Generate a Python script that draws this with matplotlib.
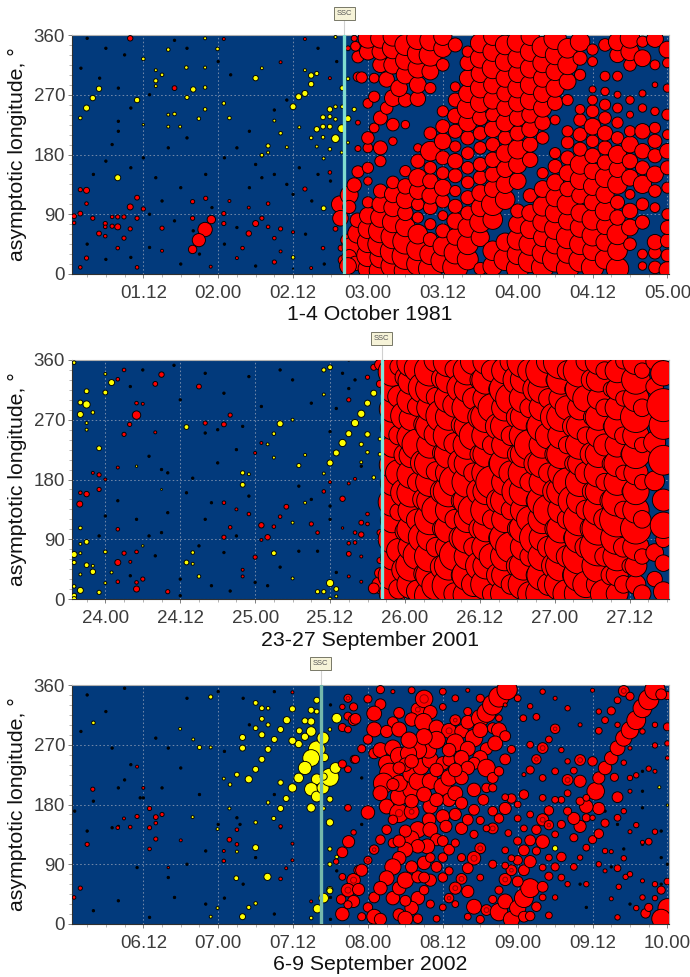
import matplotlib
matplotlib.use("Agg")
import matplotlib.pyplot as plt
from matplotlib.ticker import MultipleLocator

plt.rcParams['font.family'] = ['Liberation Sans', 'DejaVu Sans']

# every mark is (hour from the first day 00:00, longitude, bubble diameter)
# ---- 1-4 October 1981
oct_yellow = [(4.9,279,4.5),(3.9,265,4.5),(2.9,250,5),(1.9,235,3),(7.9,145,5),(12,324,3),(14,291,3.5),(14,283,2.5),(15,300,3),
 (14,307,2.5),(16,338,3),(18.9,311,3),(21.9,355,2.5),(23.9,339,3),(20,278,4.5),(21.9,281,3),(21.9,311,2.5),(21.9,248,3),(20.9,234,3),
 (17,241,3),(16,222,2.5),(17.9,222,2.5),(24.9,257,3),(25.8,235,3),(30,295,4.5),(31,310,2.5),(33,231,2.5),(34,212,3),(32,193,3.5),
 (32,183,2.5),(31,179,3),(35,191,2.5),(36,252,5),(36.9,267,5),(37.9,272,5),(38.9,286,4.5),(38.9,299,4.5),(39.8,302,3.5),(37.9,307,2.5),
 (40.8,236,4),(41.9,237,3.5),(42.8,233,3),(41.9,248,4.5),(42.8,252,3),(43.9,280,4),(43.9,252,3),(39.8,218,4.5),(40.8,222,4),(41.9,222,4),
 (42.8,204,6.5),(43.8,219,6.5),(40.8,206,3),(38.9,205,3),(39.8,192,2.5),(41.9,188,3),(44.8,234,5),(45.8,248,3.5),(44.8,294,3),(44.8,198,2.5),
 (37,221,2.5),(40.9,99,4),(43.8,183,2.5),(40.9,174,2.5),(42.8,357,2.5),(11,262,4.5),(19,266,3.5),(12,225,2),(16,240,2.5),(36,8,1),(36,25,3)]
oct_red = [(9.9,355,4.5),(1.9,127,3.5),(2.9,126,5),(1.9,91,4),(0.9,87,4),(0.9,77,3),(2.9,106,3),(3.9,84,3.5),(5.9,76,3.5),(5.9,71,3),
 (7,72,3.5),(7.9,71,5),(7.9,86,3.5),(7,86,3),(8.9,86,3.5),(9.9,101,5),(11,115,4),(11,84,3.5),(12,98,3.5),(9.9,68,3.5),(8.9,54,3.5),
 (4.9,61,4),(5.9,57,3),(7.9,39,3),(2.9,24,3.5),(1.9,10,3),(11,10,3),(15,69,3.5),(15,35,2.5),(17,280,4),(19.9,109,3.5),(22,114,3.5),
 (19.9,84,3.5),(22.9,82,7),(21.9,67,12),(20.9,51,11),(19.9,37,7),(24.9,91,3.5),(24.9,76,3.5),(25.8,110,2.5),(28.9,100,2.5),(28.9,61,4.5),
 (30,76,5),(31,84,3.5),(32,71,3),(32,106,3),(34,68,3.5),(33,54,3),(33,18,3.5),(34,34,2.5),(27.9,39,3),(27,24,2.5),(22.8,11,2.5),(36,63,2.5),
 (37.9,128,3.5),(38.9,9,2.5),(40.8,39,3),(41.9,153,3),(42.8,68,4),(34,319,2.5),(41.9,295,2.5),(24.9,354,2.5),(37.9,354,2.5),
 (43.7,39,5),(44,21,8),(43.5,105,14),(43.6,84,13),(45,119,15),(45.8,134,12),(46.4,154,10),(45,101,11),(44.6,51,10),(45.4,41,16),(45,26,12),
 (46.3,61,16),(46.3,81,12),(46,16,12),(46.4,189,5),(46.4,228,4),(46.4,297,8),(46.4,327,10),(46,343,8),(45.8,355,5),(44.8,340,4),(44.8,12,14)]
oct_red_after = [(48,8,14),(48,28,16),(48,48,15),(48,68,14),(48,88,12),(48,108,8),(48,140,6),(48,160,8),(48,190,7),(48,205,9),(48,257,7),(47,296,8),(48,335,12),(48,355,14),
 (50,5,16),(50,25,15),(50,45,18),(50,65,17),(50,85,14),(50,105,12),(50,125,10),(50,170,8),(50,190,10),(49,220,7),(50,235,10),(49,267,8),(49,295,7),(50,315,11),(50,335,12),(50,355,14),
 (52,12,17),(52,34,18),(52,56,17),(52,78,15),(52,100,13),(52,120,12),(52,138,9),(52,200,6),(52,225,9),(51,250,9),(52,265,12),(51,293,11),(52,315,13),(52,340,15),(52,358,14),
 (54,5,16),(54,27,19),(54,49,18),(54,71,14),(54,92,11),(54,112,13),(54,132,11),(54,155,8),(54,225,6),(54,262,10),(53,280,12),(54,300,13),(54,322,14),(54,345,15),
 (56,15,16),(56,37,16),(56,60,14),(56,85,8),(56,105,9),(56,125,12),(56,145,13),(56,170,10),(56,190,6),(56,264,11),(56,285,12),(56,310,14),(56,332,15),(56,355,16),
 (58,8,17),(58,30,15),(58,52,10),(58,75,8),(58,100,10),(58,118,12),(58,140,11),(58,160,9),(58,185,14),(58,212,9),(58,280,8),(58,305,12),(58,330,16),(58,352,15),
 (60,20,17),(60,42,14),(60,65,10),(60,88,7),(60,110,10),(60,130,12),(60,152,9),(60,175,10),(60,200,12),(60,222,10),(60,245,8),(60,315,9),(60,340,13),(60,358,13),
 (62,10,18),(62,32,16),(62,56,12),(62,80,12),(62,102,10),(62,125,8),(62,148,10),(62,170,11),(62,192,8),(62,215,10),(62,238,11),(62,262,10),(62,282,7),(62,345,10),
 (64,22,15),(64,45,15),(64,70,14),(64,92,10),(64,115,10),(64,138,9),(64,160,9),(64,182,9),(64,205,10),(64,228,13),(64,250,15),(64,272,13),(64,295,12),(64,318,11),(64,335,8),
 (66,8,9),(66,55,13),(66,78,15),(66,100,13),(66,122,12),(66,145,10),(66,165,10),(66,190,9),(66,212,10),(66,235,11),(66,258,14),(66,280,14),(66,302,13),(66,325,14),(66,348,14),
 (68,12,14),(68,35,14),(68,82,14),(68,105,16),(68,128,12),(68,150,11),(68,172,11),(68,195,10),(68,218,12),(68,240,10),(68,262,13),(68,285,13),(68,310,15),(68,335,14),(68,358,13),
 (70,22,16),(70,48,13),(70,112,14),(70,135,13),(70,158,12),(70,182,13),(70,205,10),(70,228,13),(70,250,12),(70,272,12),(70,295,13),(70,320,14),(70,345,14),
 (72,8,16),(72,30,15),(72,52,15),(72,75,13),(72,95,10),(72,140,12),(72,165,13),(72,188,14),(72,212,11),(72,235,12),(72,258,13),(72,280,14),(72,302,13),(72,325,14),(72,350,15),
 (74,20,17),(74,45,16),(74,68,14),(74,92,12),(74,118,10),(74,172,11),(74,195,11),(74,218,12),(74,240,12),(74,262,14),(74,285,14),(74,310,14),(74,335,14),(74,358,13),
 (76,10,16),(76,32,15),(76,55,13),(76,78,14),(76,102,14),(76,128,12),(76,152,8),(76,205,9),(76,228,11),(76,250,13),(76,272,13),(76,295,13),(76,318,14),(76,342,15),
 (78,22,18),(78,45,14),(78,68,15),(78,92,14),(78,115,13),(78,138,12),(78,162,10),(78,182,8),(78,232,7),(78,258,11),(78,280,13),(78,305,13),(78,330,14),(78,355,16),
 (80,8,16),(80,32,15),(80,55,16),(80,80,13),(80,105,15),(80,128,11),(80,152,12),(80,175,10),(80,198,9),(80,215,8),(80,262,8),(80,290,12),(80,315,14),(80,340,14),
 (82,20,16),(82,45,15),(82,70,14),(82,92,13),(82,118,12),(82,142,14),(82,165,14),(82,188,10),(82,210,10),(82,232,9),(82,248,7),(82,300,8),(82,325,10),(82,350,14),
 (84,10,16),(84,35,14),(84,58,15),(84,82,15),(84,108,12),(84,132,13),(84,155,12),(84,178,11),(84,200,9),(84,222,12),(84,245,9),(84,262,7),(84,278,5),(84,320,7),(84,338,8),
 (86,22,14),(86,48,13),(86,72,12),(86,95,14),(86,120,13),(86,145,14),(86,168,11),(86,190,10),(86,212,11),(86,235,9),(86,255,8),(86,275,6),(86,298,7),(86,345,9),
 (88,8,16),(88,35,14),(88,60,15),(88,85,11),(88,108,10),(88,135,14),(88,158,12),(88,180,13),(88,205,9),(88,228,8),(88,250,7),(88,270,5),(88,298,7),(88,330,11),(88,350,13),
 (90,45,9),(90,70,12),(90,95,11),(90,120,7),(90,145,12),(90,170,11),(90,195,12),(90,215,8),(90,240,5),(90,262,6),(90,315,9),(90,335,13),(90,355,14),
 (92,12,6),(92,30,7),(92,78,10),(92,105,9),(92,135,13),(92,160,10),(92,185,11),(92,215,11),(92,250,6),(92,272,5),(92,325,12),(92,350,8),
 (94,10,9),(94,32,9),(94,48,11),(94,100,7),(94,125,9),(94,150,12),(94,178,10),(94,200,10),(94,220,8),(94,245,6),(94,285,4),(94,315,7),(94,354,12),
 (96,6,12),(96,28,9),(96,50,10),(96,70,10),(96,90,8),(96,130,8),(96,160,10),(96,185,11),(96,210,7),(96,240,8),(96,280,6),(96,338,12),(96,318,7)]
oct_black = [(3,355),(6,340),(9,330),(2,310),(5,295),(8,280),(13,270),(10,250),(8,230),(8,215),(7,195),(12,175),(10,160),(6,170),(4,150),(16,190),(19,205),(14,145),(18,130),
 (15,110),(22,150),(25,175),(27,190),(30,165),(31,145),(29,130),(33,150),(35,135),(21,30),(18,15),(17,352),(24,320),(19,340),(26,300),(35,262),(33,247),(29,215),(31,178),(37,160),
 (40,150),(36,120),(39,110),(27,70),(25,45),(13,40),(6,22),(10,25),(3,45),(13,90),(17,80),(23,100),(42,140),(43,320),(40,340),(38,60),(41,15),(30,12),(20,65)]

# ---- 23-27 September 2001
sep01_yellow = [(19,356,3),(24,339,2.5),(25,326,5),(24,311,4),(21,313,4),(20,296,4),(21,293,6),(20,278,5),(22,281,3),(21,265,2.5),(21,255,2.5),(23,227,4),
 (37,259,4),(46,172,4),(46,190,3.5),(47,188,2.5),(50,233,2.5),(52,264,5),(51,249,3),(54,270,2.5),(51,213,2.5),(51,69,4),(19,67,5),(19,55,3.5),(20,107,3),(21,86,4),
 (20,83,2.5),(20,69,2.5),(21,51,4),(22,41,4.5),(22,50,2.5),(20,37,2.5),(20,13,5),(19,19,3),(19,5,4),(19,0,4),(23,10,3.5),(24,24,2.5),(25,40,2.5),(24,71,3),(37,55,4),
 (38,53,2.5),(38,70,3),(39,34,3),(60,24,6),(59,11,3.5),(58,11,3.5),(61,15,4),(61,4,2.5),(60,0,3),(54,31,2.5),(56,217,2.5),(60,205,5),(61,220,5),(62,235,6),(63,249,5),
 (64,265,6),(65,279,6),(66,295,5),(67,310,5),(60,349,4),(59,345,3.5),(65,233,3.5),(66,248,4.5),(67,183,3),(66,221,3),(65,206,2.5),(68,241,3),(68,218,3),(59,189,2.5),
 (55,201,3.5),(59,308,2.5),(56,145,2.5),(54,115,2.5),(29,200,2),(30,80,2),(33,165,1.5)]
sep01_red = [(29,277,7),(27.9,263,3.5),(27,248,3.5),(33,338,4.5),(32,324,4),(29,295,3),(30,294,2.5),(27,345,3),(26,331,3),(21,158,4.5),(19.9,143,5),(20,160,3),(23,187,3.5),
 (23,165,3.5),(22,190,2.5),(24,180,2.5),(26,198,2.5),(26,105,3),(29,15,5),(29,25,3),(30,30,3.5),(26,55,5),(27,69,3.5),(29,71,3),(28,56,2.5),(34,11,3.5),(26,26,3),(32,251,2.5),
 (39,320,4),(40,265,3.5),(43,263,4),(44,277,3.5),(43,145,3),(44,108,3),(43,93,3.5),(45,135,2.5),(47,128,3),(46,44,2.5),(46,34,2.5),(48,63,3.5),(49,111,4.5),(50,93,4.5),(49,235,2.5),
 (49,89,2.5),(51,109,3),(52,124,3),(53,139,4),(48,220,2.5),(57,113,3.5),(58,100,3),(60,176,2.5),(59,162,3),(62,151,4.5),(63,174,2.5),(64,181,2.5),(63,300,3.5),(66,334,3.5),(67,349,5),
 (68,324,6),(68,353,9),(66,128,3),(65,115,4),(66,113,3),(64,100,3),(65,97,4.5),(63,84,3),(64,85,3),(63,68,4),(65,64,2.5),(63,34,2.5),(65,26,2.5),(62,107,2),(68,21,14),(67,16,9),(68,39,9),(68,58,5),(68,100,5)]
sep01_red_after = [(70,8,24),(70,35,26),(70,62,22),(70,90,26),(70,118,22),(70,146,26),(70,174,22),(70,202,24),(70,230,20),(70,258,22),(70,286,24),(70,314,22),(70,342,26),
 (73,22,26),(73,50,28),(73,78,24),(73,105,26),(73,133,24),(73,160,26),(73,188,26),(73,216,22),(73,244,26),(73,272,22),(73,300,26),(73,328,24),(73,356,26),
 (76,5,28),(76,36,26),(76,64,28),(76,92,24),(76,120,28),(76,148,24),(76,176,26),(76,204,28),(76,232,24),(76,260,26),(76,288,24),(76,316,26),(76,344,28),
 (79,20,30),(79,50,26),(79,78,24),(79,106,26),(79,134,24),(79,162,28),(79,190,24),(79,218,26),(79,246,28),(79,274,24),(79,302,26),(79,330,24),(79,358,28),
 (82,6,26),(82,36,28),(82,64,24),(82,92,28),(82,120,24),(82,148,26),(82,176,28),(82,204,24),(82,232,26),(82,260,24),(82,288,28),(82,316,24),(82,344,26),
 (85,22,28),(85,50,24),(85,78,26),(85,106,24),(85,134,28),(85,162,24),(85,190,26),(85,218,24),(85,246,26),(85,274,28),(85,302,24),(85,330,26),(85,358,24),
 (88,8,26),(88,36,24),(88,64,26),(88,92,28),(88,120,24),(88,148,26),(88,176,24),(88,204,28),(88,232,24),(88,260,26),(88,288,24),(88,316,28),(88,344,24),
 (91,22,28),(91,50,26),(91,78,24),(91,106,26),(91,134,24),(91,162,26),(91,190,28),(91,218,24),(91,246,26),(91,274,24),(91,302,26),(91,330,24),(91,358,30),
 (94,8,30),(94,36,28),(94,64,26),(94,92,24),(94,120,26),(94,148,28),(94,176,24),(94,204,26),(94,232,24),(94,260,28),(94,288,24),(94,316,26),(94,344,30),
 (97,22,30),(97,50,28),(97,78,30),(97,106,26),(97,134,24),(97,162,26),(97,190,24),(97,218,26),(97,246,24),(97,274,26),(97,302,22),(97,330,26),(97,358,32),
 (100,8,28),(100,36,30),(100,64,32),(100,92,28),(100,120,30),(100,148,24),(100,176,26),(100,204,22),(100,232,26),(100,260,24),(100,288,22),(100,316,26),(100,344,30),
 (103,22,22),(103,50,30),(103,78,34),(103,106,30),(103,134,28),(103,162,24),(103,190,26),(103,218,24),(103,246,22),(103,274,24),(103,302,20),(103,330,22),(103,358,24),
 (106,8,20),(106,36,20),(106,64,26),(106,92,30),(106,120,32),(106,148,28),(106,176,24),(106,204,24),(106,232,22),(106,260,24),(106,288,22),(106,316,20),(106,344,22),
 (109,22,18),(109,50,20),(109,78,24),(109,106,28),(109,134,24),(109,162,24),(109,190,22),(109,218,26),(109,246,24),(109,274,28),(109,302,24),(109,330,26),(109,358,24),
 (113.4,11,18),(113.4,54,15),(113.4,89,14),(113.4,111,24),(113.4,149,20),(113.4,209,27),(113.4,262,26),(113.4,292,30),(113.4,340,23),(112,30,14),(112,70,16),(112,178,18),(112,236,20),(112,320,16),(112,358,16)]
# the fish-scale pattern: smaller hourly bubbles between the columns above
sep01_red_mid = [(71,15,18),(71,73,22),(71,131,16),(71,190,24),(71,247,18),(71,305,20),(71,350,16),
 (72,44,24),(72,102,18),(72,160,26),(72,217,20),(72,276,26),(72,334,18),
 (74,12,20),(74,66,26),(74,119,20),(74,176,18),(74,233,28),(74,290,18),(74,347,24),
 (75,38,18),(75,93,28),(75,150,20),(75,205,24),(75,263,18),(75,318,28),
 (77,20,26),(77,78,18),(77,134,26),(77,192,18),(77,248,22),(77,304,18),(77,360,22),
 (78,48,22),(78,106,18),(78,162,22),(78,220,18),(78,276,30),(78,332,20),
 (80,8,20),(80,66,28),(80,120,18),(80,178,28),(80,234,20),(80,292,22),(80,346,18),
 (81,36,18),(81,92,22),(81,148,18),(81,206,24),(81,262,18),(81,318,26),
 (83,22,22),(83,78,18),(83,134,28),(83,190,18),(83,246,26),(83,302,20),(83,358,24),
 (84,50,26),(84,106,20),(84,162,24),(84,218,18),(84,274,22),(84,330,18),
 (86,8,18),(86,64,24),(86,120,18),(86,176,30),(86,232,18),(86,288,26),(86,344,20),
 (87,36,22),(87,92,18),(87,148,22),(87,204,18),(87,260,24),(87,316,18),
 (89,22,18),(89,78,28),(89,134,18),(89,190,22),(89,246,18),(89,302,28),(89,358,20),
 (90,50,20),(90,106,18),(90,162,28),(90,218,18),(90,274,20),(90,330,26),
 (92,8,22),(92,64,18),(92,120,24),(92,176,18),(92,232,28),(92,288,18),(92,344,22),
 (93,36,18),(93,92,30),(93,148,18),(93,204,22),(93,260,18),(93,316,24),
 (95,22,20),(95,78,20),(95,134,28),(95,190,18),(95,246,24),(95,302,18),(95,358,22),
 (96,50,24),(96,106,18),(96,162,22),(96,218,18),(96,274,26),(96,330,16),
 (98,8,26),(98,64,20),(98,120,18),(98,176,26),(98,232,16),(98,288,22),(98,344,18),
 (99,36,20),(99,92,18),(99,148,28),(99,204,16),(99,260,20),(99,316,16),
 (101,22,24),(101,78,20),(101,134,18),(101,190,20),(101,246,16),(101,302,24),(101,358,18),
 (102,50,18),(102,106,22),(102,162,18),(102,218,22),(102,274,16),(102,330,20),
 (104,8,26),(104,64,18),(104,120,20),(104,176,16),(104,232,20),(104,288,16),(104,344,16),
 (105,36,18),(105,92,18),(105,148,20),(105,204,16),(105,260,14),(105,316,14),
 (107,22,16),(107,78,18),(107,134,16),(107,190,14),(107,246,16),(107,302,14),(107,358,14),
 (108,50,14),(108,106,16),(108,162,14),(108,218,16),(108,274,14),(108,330,14),
 (110,8,16),(110,64,14),(110,120,16),(110,176,14),(110,232,14),(110,288,16),(110,344,14)]
sep01_black = [(30,345),(35,352),(40,340),(28,320),(36,300),(43,310),(47,335),(52,345),(31,215),(33,195),(38,182),(42,205),(45,225),(37,160),(41,145),(34,130),(40,120),(45,95),(39,80),
 (32,65),(36,30),(41,20),(44,12),(48,25),(52,48),(55,72),(53,140),(47,155),(55,170),(49,290),(54,330),(57,295),(61,287),(63,360),(60,252),(62,340),(46,260),(42,255),(40,250),(34,190),
 (29,120),(26,148),(24,125),(23,95),(31,95),(33,100),(58,72),(60,120),(61,40),(64,330),(63,317),(65,200),(60,140),(57,150),(43,70),(50,20),(28,35),(36,5)]

# ---- 6-9 September 2002
sep02_yellow = [(39.8,263,14),(38.9,250,14),(37.9,235,11),(36.9,220,8),(35.9,205,7),(39.8,218,9),(38.9,203,11),(39.8,192,9),(38.9,175,7),(40.8,205,10),(41.9,221,15),(41,251,7),
 (40.8,280,10),(42.8,235,9),(38.9,290,8),(37.9,282,6),(36.9,271,6),(35.9,276,6),(37,291,5),(38.9,305,6),(37.9,306,5),(35,307,6),(34,293,5),(33,278,5),(32,263,5),(31,248,5),(30,233,5),
 (28.9,218,6),(27,225,4),(27.9,281,5),(27.9,265,5),(30,295,4),(31,285,5),(31,309,4),(32,300,3.5),(30,333,4),(31,325,4),(32,325,3),(35.9,324,5),(38.9,322,5),(39.8,337,5),(39.8,320,4),
 (22.8,342,3.5),(34,174,5),(34.9,189,5),(34,213,4.5),(32.9,159,3.5),(32,183,3),(30,153,3),(30,115,5),(31.9,71,6),(26.9,69,4),(27.9,11,5),(30,31,3),(28.9,25,3.5),(39.9,23,7),(40.9,39,8),
 (41.9,52,5),(38.9,9,3),(41.9,188,5),(41.9,153,6),(40.9,174,3),(40.9,222,6),(41.9,113,3.5),(41.9,90,3.5),(43,310,8),(43,101,3),(21,266,3.5),(20,278,2.5),(17.9,294,2.5),(22.8,266,2.5),
 (4,303,3),(19.9,161,2.5),(23.9,143,2.5),(25.9,210,3),(24.9,219,2.5),(25.8,174,2.5),(27,109,2.5),(23.9,24,2.5),(22.8,11,2.5),(78,114,4.5),(94.7,206,2.5),(96,179,2),(41.9,50,5),(41.9,293,3)]
sep02_red = [(3.9,203,3.5),(0.9,40,3),(1.9,54,3.5),(3,120,3.5),(11,162,3.5),(13,174,3.5),(14,161,4),(15,165,3.5),(14,152,3),(13,145,3.5),(14,128,3.5),(13,113,3),(11,237,2.5),(12,205,2.5),
 (25.8,127,4),(27,120,3),(27,142,3),(34,147,3),(24.9,95,3),(24.9,110,2.5),(34,68,3),(35.9,96,2.5),(35.9,121,2.5),(35.9,349,2.5),(38.9,34,2.5),(34.9,84,2.5),(7.9,145,3),(9.9,146,3),(8.9,159,2.5),
 (18,126,2.5),(16,85,2)]
sep02_red_after = [(44.9,124,9),(43.9,108,8),(45.7,66,10),(44.8,51,10),(45.7,34,9),(43.7,37,7),(43.9,15,10),(44.8,29,6),(43.9,71,5),(46.5,52,9),(46.5,81,7),(43.9,241,6),(44.8,233,5),
 (45.8,248,6),(43.9,296,6),(44.8,293,5),(44.8,313,6),(45.7,307,8),(44.8,340,6),(45.7,327,6),(43.9,327,4),(44.8,175,5),(45.7,138,4),(42.9,94,4),
 (48,168,10),(47,81,9),(48,96,6),(49,112,7),(49,40,8),(48,25,7),(49,11,11),(50,7,9),(47,11,6),(50,331,8),(49,317,11),(49,293,11),(48,339,6),(46,309,8),(48,278,7),(47,264,6),(46,248,6),
 (53,318,8),(52,304,8),(56,323,10),(57,339,13),(58,319,10),(51,290,9),(53,293,11),(55,308,10),(56.9,304,13),(59,296,11),(61,291,11),(63,290,10),(62,307,8),(64,304,10),(66,310,13),(67,318,14),(68,330,15),(69,342,15),(70.3,353,15),
 (68,295,8),(69,292,11),(65,280,13),(66,292,11),(62,273,13),(64,264,11),(67,264,9),(68.4,272,11),(70,283,8),(71,263,6),(66,250,11),(65,242,9),(67,235,13),(70,248,8),(68,220,8),
 (49,257,8),(50,262,11),(52,265,12),(51,242,12),(53,253,13),(51.5,227,15),(50.5,212,15),(50,197,11),(51,177,11),(53,167,14),(55,169,11),(52,157,7),(53,192,13),(55,202,13),(53,212,12),(55,226,13),(56,215,13),(58,215,12),
 (60,207,13),(61,220,12),(56.5,237,12),(58,247,12),(60,242,10),(61,247,9),(63,250,11),(64,235,10),(63,220,10),(61,262,10),(57.7,262,12),(56,262,13),(54.5,257,12),(59,277,13),(57,282,12),(54.6,277,12),(61,187,10),(58,177,11),
 (62,197,11),(65,202,10),(66.5,187,8),(65,172,8),(63,182,9),(60,162,10),(57.8,157,10),(56,142,12),(55,129,11),(58,142,11),(60.5,147,9),(63,144,9),(64,157,8),(59,127,9),(61,112,8),(57.5,117,11),(56,117,10),(54,112,11),
 (53,99,10),(52,86,12),(51,69,11),(50,54,10),(52,39,10),(53,54,10),(54,66,12),(56,71,9),(58,66,9),(59,86,8),(57,92,10),(55,86,9),(56,39,10),(55,24,10),(53,14,9),(54,8,11),(57,51,7),(52,122,7),(51,142,7),(50,127,7),
 (66,114,8),(65,99,10),(64,84,8),(63,68,8),(62,54,9),(64,49,9),(61,39,7),(60,25,5),(59,8,5),(65,26,11),(67,21,8),(64,11,5),(66,7,6),(69,18,13),(70,34,11),(68,37,6),(69,51,6),(71,7,12),(72,24,12),(73,39,14),(74,54,14),
 (73,11,8),(76,56,8),(75,26,7),(77,13,5),(76,40,5),(70,67,9),(72,64,8),(73,81,8),(74,94,9),(71,81,8),(73,111,8),(74,126,8),(76,124,10),(77,72,6),(78,86,6),(79,101,7),(81,86,5),(82,100,4),(83,115,5),(84,127,6),(85,136,7),
 (82,147,9),(81,159,9),(83,160,6),(86,152,6),(85,174,9),(83,177,10),(84.5,200,13),(82,215,9),(85,220,9),(86,235,10),(87,250,10),(88,265,11),(89,280,12),(90,292,13),(91,307,14),(92,325,14),(93,338,15),(94,353,15),
 (87.5,221,6),(88,191,8),(96,24,14),(95,8,14),(92.5,16,7),(84,245,7),(82,247,8),(80,217,8),(81,231,5),(80,197,5),(79,187,5),(78,187,5),(76,190,5),(77,171,7),(76,157,9),(77,149,7),(75,142,7),(73,144,5),(72,159,5),
 (71,189,7),(70,174,9),(70,191,5),(73,195,7),(74,232,6),(75,248,7),(76,265,8),(78,294,7),(77,278,5),(75,312,5),(72.9,310,5),(69,159,7),(68,144,8),(67,144,5),(70.5,137,5),(72,96,7),(71,99,5),(70,111,5),(85,291,5),(87,321,6),
 (86,307,5),(88,337,5),(89,351,8),(90,343,6),(96,344,6),(95,346,8),(96,64,5),(95,51,6),(94,39,4),(93,25,6),(91,24,4),(88,84,5),(89.3,71,4),(88.2,56,4),(87,38,3),(88,10,4),(89,99,4),(87,109,3),(93,124,5),(94,139,4),(92,123,3),
 (91,149,4),(90,139,3),(91,224,4),(93,234,4),(94,269,4),(96,272,4),(96,297,6),(78,340,3),(76,350,4),(80,325,4),(82,300,3),(84,352,3),(72,340,5),(74,328,4),(70,330,3),(50,353,6),(52,350,3),(55,352,5),(60,350,5),(64,352,3),(73,225,3),
 (54,240,10),(55,245,10),(59,232,10),(62,232,10),(53,235,9),(57,195,11),(59,187,10),(55,185,10),(52,210,9),(62,165,9),(60,125,8),(54,140,9),(53,125,9),(57,70,8),(60,70,7),(61,80,6),(54,35,8),(58,30,6),(62,30,5),(56,8,7),
 (58,100,7),(60,100,7),(63,100,6),(62,122,6),(65,135,6),(66,156,6),(68,170,7),(67,205,7),(68,205,6),(69,230,7),(64,320,6),(60,327,5),(62,340,5),(66,340,6),(69,310,5),(74,270,5),(76,220,5),(78,230,5),(79,262,4),(80,245,4),
 (82,185,6),(80,170,6),(79,150,6),(81,130,6),(78,135,5),(72,125,6),(70,88,5),(68,90,6),(66,70,5),(74,165,5),(72,180,5),(75,110,6),(77,100,5),(79,70,5),(76,85,5),(74,12,7),(78,40,4),(80,60,4),(83,60,4),(85,90,4),
 (86,110,4),(86,80,3),(90,75,4),(92,65,3),(92,40,4),(94,60,4),(84,160,4),(83,190,5),(88,160,5),(89,170,4),(90,220,4),(89,243,4),(90,200,3),(94,230,3),(96,250,3),(94,300,4),(92,290,4),(90,265,3),(88,300,4),(85,320,4)]
sep02_rings = [(45.7,66,5),(44.8,51,5),(44.8,340,3),(57,339,7),(56,323,4),(61,291,5),(62,307,3),(55,169,4),(53,167,6),(66,114,4),(65,99,5),(63,68,4),(62,54,4),(61,39,3),(67,21,4),(70,67,4),(71,81,3),(76,157,4),(77,149,3),
 (75,248,3),(76,265,4),(78,294,3),(82,247,4),(80,217,4),(89,351,4),(68,144,4),(49,112,3),(48,96,3)]
sep02_black = [(3,345),(6,320),(9,355),(2,290),(7,265),(10,240),(8,205),(12,190),(4,185),(7,145),(1,170),(3,140),(11,85),(8,35),(4,20),(13,10),(17,40),(16,70),(19,90),(22,110),(24,150),(21,195),(15,205),(18,235),(25,260),(19,340),
 (24,350),(28,340),(14,280),(16,265),(29,300),(33,350),(33,195),(34,145),(27,160),(30,100),(28,60),(33,15),(25,39),(11.5,190),(9,217),(8,147),(27.5,150),(22,30),(42,330),(43,80),(42,7),(42,40),(47,220),(47,150),(88,10),(92,175),
 (92,120),(90,30),(95,140),(95,100),(95,60),(92,230),(92,200),(87,86),(86,170),(89,113),(96,90),(83,25),(82,60),(88,150)]

# axes positions in pixels of the final picture (left, top, right, bottom)
W, H = 690, 977
panels = [
    dict(yellow=oct_yellow, red=oct_red, after=oct_red_after, after_scale=1.4, black=oct_black, rings=[],
         box=(72, 35, 669, 274), xlim=(0.57, 96.25), ticks=[12,24,36,48,60,72,84,96],
         labels=['01.12','02.00','02.12','03.00','03.12','04.00','04.12','05.00'],
         ssc=44.2, ssc_col='#7fdcd0', title='1-4 October 1981', title_x=370, title_y=314),
    dict(yellow=sep01_yellow, red=sep01_red, after=sorted(sep01_red_after + sep01_red_mid, key=lambda r: r[0]), after_scale=1.1, black=sep01_black, rings=[],
         box=(72, 360, 669, 599), xlim=(18.66, 114.3), ticks=[24,36,48,60,72,84,96,108],
         labels=['24.00','24.12','25.00','25.12','26.00','26.12','27.00','27.12'],
         ssc=68.3, ssc_col='#7fe4dc', title='23-27 September 2001', title_x=370, title_y=641),
    dict(yellow=sep02_yellow, red=sep02_red, after=sep02_red_after, after_scale=1.35, black=sep02_black, rings=sep02_rings,
         box=(72, 685, 669, 924), xlim=(0.57, 96.25), ticks=[12,24,36,48,60,72,84,96],
         labels=['06.12','07.00','07.12','08.00','08.12','09.00','09.12','10.00'],
         ssc=40.4, ssc_col='#74b8ac', title='6-9 September 2002', title_x=370, title_y=964),
]

BLUE = '#023a7c'
TEXT = '#3c3c3c'


def bubbles(ax, rows, colour, z, scale=1.0, fill=True):
    t = [r[0] for r in rows]
    lon = [r[1] for r in rows]
    s = [(r[2] * scale * 72 / 100) ** 2 for r in rows]
    ax.scatter(t, lon, s=s, c=colour if fill else 'none', edgecolors='black' if fill else '#8c0000',
               linewidths=0.65, zorder=z)


fig = plt.figure(figsize=(W / 100, H / 100), dpi=100)

for p in panels:
    left, top, right, bottom = p['box']
    ax = fig.add_axes([left / W, 1 - bottom / H, (right - left) / W, (bottom - top) / H])
    ax.set_facecolor(BLUE)
    ax.set_xlim(*p['xlim'])
    ax.set_ylim(0, 360)

    ax.set_xticks(p['ticks'])
    ax.set_xticklabels(p['labels'])
    ax.xaxis.set_minor_locator(MultipleLocator(3))
    ax.set_yticks([0, 90, 180, 270, 360])
    ax.yaxis.set_minor_locator(MultipleLocator(15))
    ax.tick_params(axis='x', which='major', labelsize=13.5, labelcolor=TEXT, color='#808080', length=3, width=0.7, pad=5)
    ax.tick_params(axis='y', which='major', labelsize=13.5, labelcolor=TEXT, color='#808080', length=3, width=0.7, pad=2)
    ax.tick_params(axis='both', which='minor', color='#a8a8a8', length=2, width=0.6)
    ax.set_axisbelow(True)
    ax.grid(True, which='major', color='#6f86a8', linestyle=(0, (1.5, 2.2)), linewidth=0.75)

    ax.spines['left'].set_color('#303030')
    ax.spines['bottom'].set_color('#303030')
    ax.spines['top'].set_color('#b0b0b0')
    ax.spines['right'].set_color('#b0b0b0')

    ax.set_ylabel('asymptotic longitude, °', fontsize=15.3, color='#111111')
    ax.yaxis.set_label_coords((27 - left) / (right - left), 0.5)
    fig.text(p['title_x'] / W, 1 - p['title_y'] / H, p['title'], fontsize=15.3, color='#111111', ha='center', va='center')

    bubbles(ax, [(r[0], r[1], 2.4) for r in p['black']], 'black', 2)
    bubbles(ax, p['yellow'], '#ffff00', 3, scale=1.2)
    bubbles(ax, p['red'], '#ff0000', 4, scale=1.2)
    bubbles(ax, p['after'], '#ff0000', 4, scale=p['after_scale'])
    if p['rings']:
        bubbles(ax, p['rings'], 'red', 5, scale=1.2, fill=False)

    # SSC line and its little flag above the axes
    ax.axvline(p['ssc'], color=p['ssc_col'], linewidth=2.4, zorder=6)
    trans = ax.get_xaxis_transform()
    ax.plot([p['ssc'], p['ssc']], [1.0, 1.06], transform=trans, color='#d0d0d0', linewidth=0.8, clip_on=False, zorder=1)
    ax.text(p['ssc'], 1.09, 'SSC', transform=trans, fontsize=5.5, color='#555555', ha='center', va='center',
            bbox=dict(boxstyle='square,pad=0.35', facecolor='#f6f3d8', edgecolor='#777766', linewidth=0.7))

fig.savefig('out.png', dpi=100)
